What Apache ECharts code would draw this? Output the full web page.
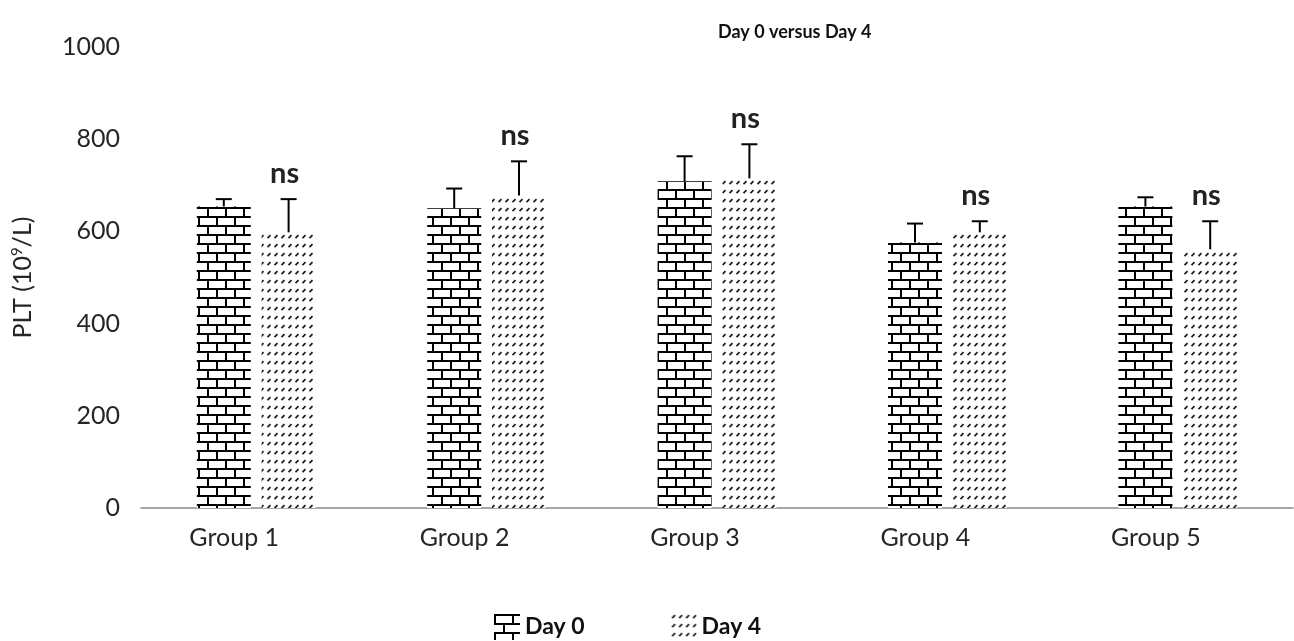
<!DOCTYPE html>
<html>
<head>
<meta charset="utf-8">
<title>Day 0 versus Day 4</title>
<script src="https://cdn.jsdelivr.net/npm/echarts@6/dist/echarts.min.js"></script>
<style>
  html, body { margin: 0; padding: 0; background: #fff; }
  #chart { width: 1294px; height: 641px; }
</style>
</head>
<body>
<div id="chart"></div>
<script>
// Platelet counts per group, day 0 against day 4
const groups = ['Group 1', 'Group 2', 'Group 3', 'Group 4', 'Group 5'];
const day0Mean = [654, 650, 709, 576, 654];
const day0SD = [16, 43, 54, 41, 20];
const day4Mean = [598, 678, 715, 598, 561];
const day4SD = [72, 74, 74, 24, 61];
const sigLabels = ['ns', 'ns', 'ns', 'ns', 'ns'];
const yTicks = { min: 0, max: 1000, interval: 200 };

const FONT = 'Lato';
const BAR_W = 54;
const BAR_GAP = 0.2;
const HALF_STEP = (BAR_W * (1 + BAR_GAP)) / 2;

// Brick fill
function brickPattern() {
  const c = document.createElement('canvas');
  c.width = 18; c.height = 18;
  const g = c.getContext('2d');
  g.fillStyle = '#fff';
  g.fillRect(0, 0, 18, 18);
  g.fillStyle = '#000';
  g.fillRect(0, 0, 18, 2);
  g.fillRect(0, 9, 18, 2);
  g.fillRect(0, 0, 2, 9);
  g.fillRect(9, 9, 2, 9);
  return c;
}

// Dashed upward diagonal fill: rows of short slashes with white rows between
function dashPattern() {
  const c = document.createElement('canvas');
  c.width = 7; c.height = 9;
  const g = c.getContext('2d');
  g.fillStyle = '#fff';
  g.fillRect(0, 0, 7, 9);
  g.strokeStyle = '#1e1e1e';
  g.lineWidth = 1.7;
  g.lineCap = 'butt';
  g.beginPath();
  g.moveTo(1.5, 4.2);
  g.lineTo(4.5, 1.2);
  g.stroke();
  return c;
}

const brickFill = { image: brickPattern(), repeat: 'repeat' };
const dashFill = { image: dashPattern(), repeat: 'repeat' };

function errorSeries(name, means, sds, offset, labels) {
  return {
    type: 'custom',
    name: name + ' error',
    z: 5,
    silent: true,
    data: means.map((m, i) => [i, m, m + sds[i]]),
    encode: { x: 0, y: 2 },
    renderItem: function (params, api) {
      const i = api.value(0);
      const base = api.coord([i, api.value(1)]);
      const top = api.coord([i, api.value(2)]);
      const x = base[0] + offset;
      const children = [
        { type: 'line', shape: { x1: x, y1: base[1], x2: x, y2: top[1] },
          style: { stroke: '#000', lineWidth: 2 } },
        { type: 'line', shape: { x1: x - 8, y1: top[1], x2: x + 8, y2: top[1] },
          style: { stroke: '#000', lineWidth: 2 } }
      ];
      if (labels) {
        children.push({
          type: 'text',
          x: x - 4,
          y: top[1] - 11,
          style: {
            text: labels[i],
            fill: '#222',
            font: 'bold 29px ' + FONT,
            align: 'center',
            verticalAlign: 'bottom'
          }
        });
      }
      return { type: 'group', children: children };
    }
  };
}

const chart = echarts.init(document.getElementById('chart'));
chart.setOption({
  backgroundColor: '#fff',
  animation: false,
  textStyle: { fontFamily: FONT },
  title: {
    text: 'Day 0 versus Day 4',
    left: 713,
    top: 18,
    textStyle: { fontFamily: FONT, fontWeight: 'bold', fontSize: 18, color: '#111' }
  },
  legend: {
    data: ['Day 0', 'Day 4'],
    left: 489,
    top: 609,
    itemWidth: 26,
    itemHeight: 26,
    itemGap: 86,
    icon: 'rect',
    textStyle: { fontFamily: FONT, fontWeight: 'bold', fontSize: 23, color: '#111' }
  },
  grid: { left: 141, top: 47, width: 1152, bottom: 133, containLabel: false },
  xAxis: {
    type: 'category',
    data: groups,
    axisLine: { show: true, lineStyle: { color: '#8a8a8a', width: 1.5 } },
    axisTick: { show: false },
    axisLabel: {
      fontFamily: FONT, fontSize: 25, color: '#262626',
      margin: 17, padding: [0, 44, 0, 0]
    }
  },
  yAxis: {
    type: 'value',
    min: yTicks.min,
    max: yTicks.max,
    interval: yTicks.interval,
    name: 'PLT (10{sup|9}/L)',
    nameLocation: 'middle',
    nameGap: 106,
    nameTextStyle: {
      fontFamily: FONT, fontSize: 25, color: '#262626',
      rich: { sup: { fontFamily: FONT, fontSize: 15, color: '#262626', verticalAlign: 'top', padding: [0, 0, 10, 0] } }
    },
    axisLine: { show: false },
    axisTick: { show: false },
    splitLine: { show: false },
    axisLabel: {
      fontFamily: FONT, fontSize: 25, color: '#262626', margin: 21,
      formatter: function (v) { return String(v); }
    }
  },
  series: [
    {
      type: 'bar',
      name: 'Day 0',
      data: day0Mean,
      barWidth: BAR_W,
      barGap: (BAR_GAP * 100) + '%',
      itemStyle: { color: brickFill }
    },
    {
      type: 'bar',
      name: 'Day 4',
      data: day4Mean,
      barWidth: BAR_W,
      itemStyle: { color: dashFill }
    },
    errorSeries('Day 0', day0Mean, day0SD, -HALF_STEP, null),
    errorSeries('Day 4', day4Mean, day4SD, HALF_STEP, sigLabels)
  ]
});
</script>
</body>
</html>
